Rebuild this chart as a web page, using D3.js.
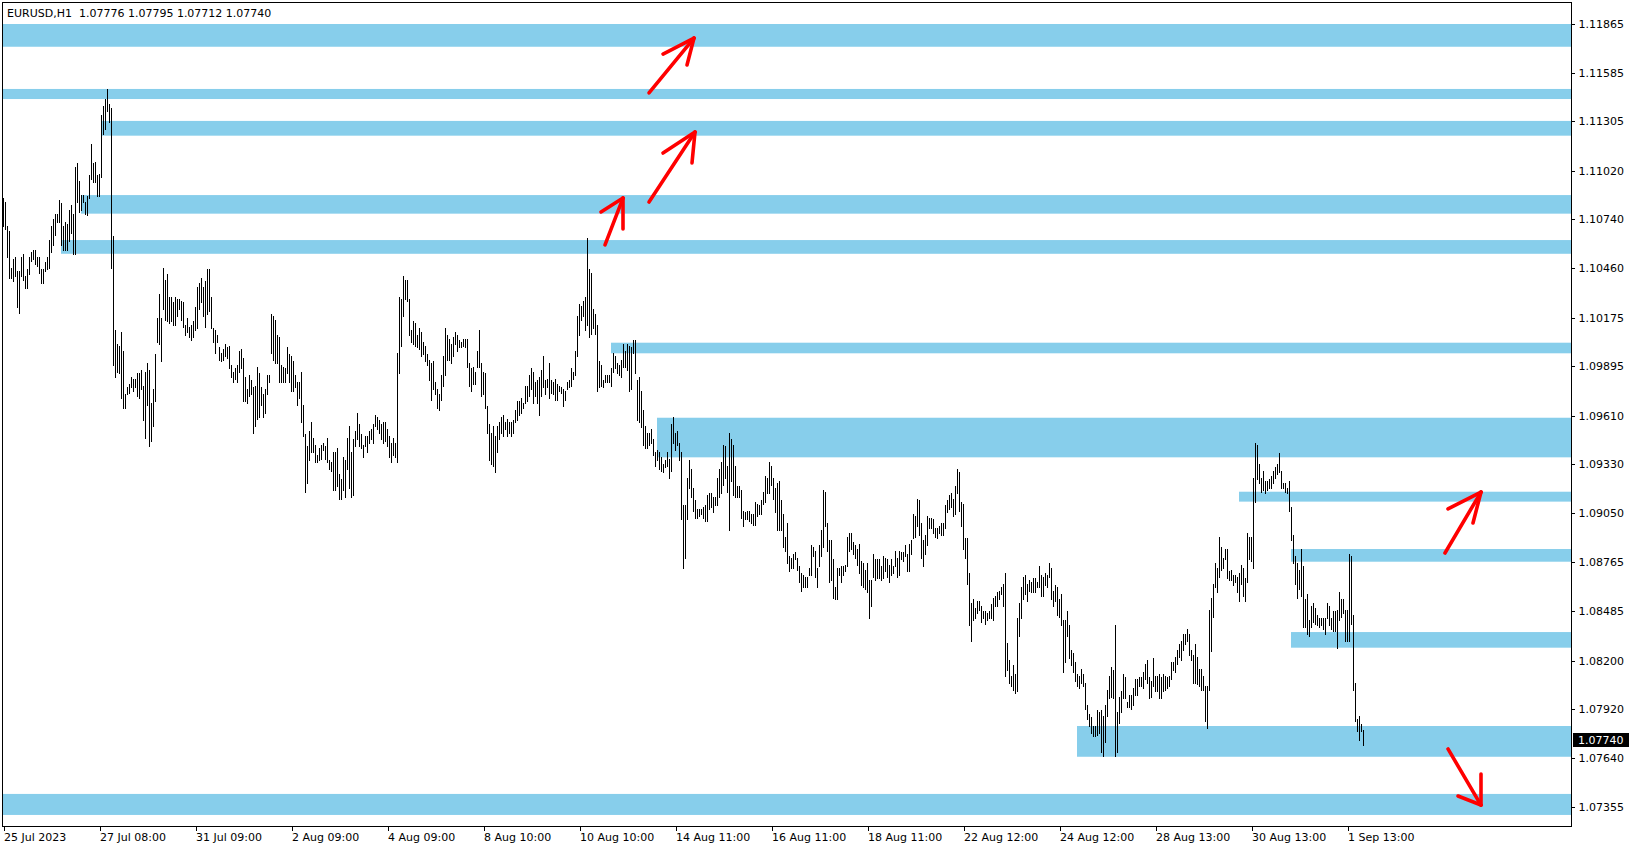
<!DOCTYPE html>
<html><head><meta charset="utf-8">
<script src="https://cdn.jsdelivr.net/npm/d3@7"></script>
<style>
html,body{margin:0;padding:0;background:#fff;}
svg{display:block;}
text{font-family:"DejaVu Sans",sans-serif;font-size:11px;fill:#000;}
</style></head><body>
<svg id="chart" width="1635" height="850"></svg>
<script>
// ---------------- data ----------------
const symbol = "EURUSD,H1";
const lastOpen = 1.07776, lastHigh = 1.07795, lastLow = 1.07712, lastClose = 1.07740;

const timeLabels = ["25 Jul 2023","27 Jul 08:00","31 Jul 09:00","2 Aug 09:00","4 Aug 09:00","8 Aug 10:00",
  "10 Aug 10:00","14 Aug 11:00","16 Aug 11:00","18 Aug 11:00","22 Aug 12:00","24 Aug 12:00",
  "28 Aug 13:00","30 Aug 13:00","1 Sep 13:00"];
const timeLabelBars = [0,48,96,144,192,240,288,336,384,432,480,528,576,624,672];

const priceTicks = [1.11865,1.11585,1.11305,1.11020,1.10740,1.10460,1.10175,1.09895,1.09610,
  1.09330,1.09050,1.08765,1.08485,1.08200,1.07920,1.07640,1.07355];

const highs = [
1.1086,1.1084,1.1070,1.1067,1.1046,1.1051,1.1052,1.1044,1.1044,1.1052,
1.1054,1.1041,1.1045,1.1052,1.1055,1.1056,1.1056,1.1052,1.1052,1.1045,
1.1045,1.1049,1.1052,1.1062,1.1070,1.1074,1.1077,1.1077,1.1085,1.1083,
1.1070,1.1072,1.1071,1.1079,1.1082,1.1077,1.1104,1.1106,1.1096,1.1088,
1.1088,1.1084,1.1087,1.1099,1.1117,1.1106,1.1107,1.1099,1.1100,1.1134,
1.1139,1.1143,1.1149,1.1140,1.1138,1.1064,1.1010,1.1002,1.1001,1.1009,
1.0998,1.0973,1.0977,1.0979,1.0983,1.0982,1.0982,1.0985,1.0985,1.0987,
1.0978,1.0986,1.0991,1.0987,1.0968,1.0976,1.0996,1.1017,1.1031,1.1017,
1.1046,1.1039,1.1042,1.1029,1.1029,1.1026,1.1029,1.1028,1.1028,1.1027,
1.1026,1.1013,1.1017,1.1012,1.1013,1.1015,1.1023,1.1035,1.1037,1.1040,
1.1035,1.1038,1.1045,1.1045,1.1029,1.1011,1.1010,1.1007,1.1000,1.0997,
1.0999,1.1002,1.1000,1.1001,1.0990,1.0986,1.0988,1.0990,1.0998,1.0999,
1.0994,1.0983,1.0976,1.0984,1.0981,1.0977,1.0978,1.0989,1.0985,1.0977,
1.0973,1.0976,1.0984,1.0984,1.1019,1.1018,1.1016,1.1007,1.1006,1.0990,
1.0989,1.0988,1.1000,1.0996,1.0995,1.0992,1.0984,1.0980,1.0980,1.0986,
1.0967,1.0950,1.0943,1.0952,1.0957,1.0948,1.0944,1.0938,1.0942,1.0944,
1.0945,1.0943,1.0948,1.0935,1.0934,1.0940,1.0940,1.0942,1.0927,1.0924,
1.0937,1.0935,1.0948,1.0955,1.0940,1.0947,1.0952,1.0962,1.0956,1.0950,
1.0944,1.0949,1.0949,1.0952,1.0953,1.0956,1.0961,1.0960,1.0958,1.0956,
1.0957,1.0957,1.0953,1.0949,1.0945,1.0948,1.0945,1.0997,1.1029,1.1028,
1.1041,1.1039,1.1039,1.1028,1.1010,1.1015,1.1014,1.1007,1.1011,1.1009,
1.1003,1.1001,1.0996,1.0993,1.0991,1.0992,1.0980,1.0976,1.0973,1.0984,
1.0995,1.1011,1.1007,1.1005,1.1002,1.1006,1.1009,1.1007,1.1004,1.1003,
1.1005,1.1005,1.1005,1.0991,1.0988,1.0989,1.0986,1.0998,1.1010,1.0991,
1.0986,1.0985,1.0966,1.0956,1.0951,1.0955,1.0949,1.0955,1.0957,1.0960,
1.0961,1.0957,1.0959,1.0957,1.0957,1.0958,1.0964,1.0969,1.0969,1.0971,
1.0968,1.0978,1.0978,1.0984,1.0988,1.0986,1.0980,1.0981,1.0983,1.0987,
1.0995,1.0981,1.0982,1.0991,1.0981,1.0980,1.0982,1.0979,1.0978,1.0977,
1.0976,1.0975,1.0980,1.0981,1.0988,1.0986,1.0998,1.1018,1.1025,1.1024,
1.1027,1.1029,1.1063,1.1045,1.1043,1.1022,1.1019,1.1013,1.0992,1.0990,
1.0981,1.0984,1.0984,1.0984,1.0988,1.0997,1.0995,1.0991,1.0990,1.0993,
1.1002,1.0998,1.1002,1.1001,1.1000,1.1004,1.1004,1.0981,1.0983,1.0975,
1.0964,1.0955,1.0951,1.0951,1.0953,1.0947,1.0940,1.0941,1.0940,1.0937,
1.0933,1.0935,1.0940,1.0936,1.0956,1.0960,1.0951,1.0952,1.0945,1.0940,
1.0909,1.0909,1.0925,1.0935,1.0930,1.0919,1.0912,1.0907,1.0907,1.0907,
1.0908,1.0909,1.0915,1.0916,1.0916,1.0914,1.0914,1.0925,1.0930,1.0934,
1.0944,1.0943,1.0932,1.0951,1.0947,1.0944,1.0932,1.0920,1.0920,1.0918,
1.0906,1.0905,1.0906,1.0906,1.0904,1.0904,1.0911,1.0910,1.0909,1.0912,
1.0917,1.0926,1.0925,1.0934,1.0932,1.0925,1.0919,1.0922,1.0923,1.0912,
1.0904,1.0891,1.0899,1.0880,1.0879,1.0881,1.0882,1.0879,1.0874,1.0870,
1.0869,1.0868,1.0868,1.0873,1.0886,1.0885,1.0883,1.0873,1.0886,1.0895,
1.0918,1.0917,1.0899,1.0889,1.0889,1.0878,1.0862,1.0873,1.0873,1.0874,
1.0874,1.0875,1.0891,1.0893,1.0893,1.0888,1.0886,1.0884,1.0887,1.0877,
1.0876,1.0872,1.0876,1.0866,1.0866,1.0881,1.0878,1.0878,1.0878,1.0874,
1.0880,1.0879,1.0878,1.0875,1.0878,1.0874,1.0883,1.0879,1.0883,1.0882,
1.0882,1.0886,1.0881,1.0887,1.0889,1.0904,1.0903,1.0913,1.0912,1.0899,
1.0889,1.0892,1.0903,1.0902,1.0902,1.0901,1.0896,1.0896,1.0897,1.0899,
1.0899,1.0909,1.0912,1.0915,1.0916,1.0913,1.0920,1.0930,1.0928,1.0911,
1.0910,1.0890,1.0890,1.0870,1.0853,1.0855,1.0850,1.0854,1.0854,1.0851,
1.0848,1.0848,1.0847,1.0848,1.0852,1.0856,1.0857,1.0859,1.0860,1.0862,
1.0864,1.0870,1.0830,1.0820,1.0811,1.0817,1.0812,1.0844,1.0853,1.0862,
1.0868,1.0869,1.0864,1.0866,1.0865,1.0867,1.0867,1.0865,1.0874,1.0869,
1.0868,1.0870,1.0869,1.0876,1.0873,1.0860,1.0863,1.0862,1.0855,1.0858,
1.0843,1.0843,1.0848,1.0840,1.0826,1.0824,1.0819,1.0812,1.0811,1.0815,
1.0812,1.0807,1.0794,1.0789,1.0787,1.0782,1.0782,1.0791,1.0790,1.0791,
1.0788,1.0794,1.0803,1.0811,1.0816,1.0814,1.0840,1.0790,1.0799,1.0802,
1.0812,1.0810,1.0796,1.0800,1.0800,1.0804,1.0809,1.0809,1.0810,1.0810,
1.0813,1.0818,1.0820,1.0810,1.0808,1.0821,1.0811,1.0811,1.0812,1.0810,
1.0812,1.0811,1.0810,1.0811,1.0819,1.0819,1.0822,1.0826,1.0829,1.0831,
1.0835,1.0835,1.0838,1.0835,1.0826,1.0823,1.0829,1.0822,1.0815,1.0815,
1.0811,1.0805,1.0805,1.0849,1.0856,1.0864,1.0876,1.0873,1.0891,1.0885,
1.0879,1.0884,1.0884,1.0871,1.0872,1.0869,1.0869,1.0868,1.0870,1.0875,
1.0873,1.0867,1.0893,1.0891,1.0891,1.0925,1.0945,1.0944,1.0933,1.0925,
1.0929,1.0923,1.0923,1.0924,1.0926,1.0929,1.0931,1.0933,1.0939,1.0929,
1.0922,1.0922,1.0919,1.0923,1.0908,1.0892,1.0880,1.0876,1.0872,1.0884,
1.0874,1.0855,1.0858,1.0843,1.0851,1.0853,1.0850,1.0846,1.0844,1.0844,
1.0844,1.0844,1.0853,1.0851,1.0844,1.0848,1.0848,1.0849,1.0859,1.0855,
1.0855,1.0849,1.0849,1.0881,1.0880,1.0846,1.0807,1.0786,1.0788,1.0783,
1.07795];

const lows = [
1.1070,1.1068,1.1052,1.1040,1.1040,1.1038,1.1041,1.1023,1.1020,1.1041,
1.1039,1.1034,1.1034,1.1042,1.1050,1.1051,1.1048,1.1047,1.1043,1.1037,
1.1037,1.1044,1.1045,1.1046,1.1055,1.1059,1.1065,1.1072,1.1072,1.1059,
1.1056,1.1056,1.1056,1.1061,1.1066,1.1054,1.1054,1.1084,1.1078,1.1079,
1.1084,1.1077,1.1076,1.1086,1.1097,1.1095,1.1095,1.1087,1.1087,1.1098,
1.1123,1.1126,1.1136,1.1130,1.1046,1.0990,1.0983,1.0986,1.0985,1.0971,
1.0965,1.0965,1.0973,1.0974,1.0977,1.0975,1.0977,1.0972,1.0971,1.0976,
1.0958,1.0948,1.0967,1.0943,1.0946,1.0955,1.0969,1.1003,1.1002,1.0992,
1.1022,1.1016,1.1015,1.1014,1.1015,1.1013,1.1013,1.1018,1.1022,1.1016,
1.1012,1.1007,1.1009,1.1006,1.1004,1.1006,1.1010,1.1011,1.1022,1.1026,
1.1018,1.1012,1.1019,1.1021,1.1011,1.1003,1.0997,1.1003,1.0993,1.0992,
1.0993,1.0995,1.0994,1.0988,1.0983,1.0980,1.0982,1.0980,1.0986,1.0988,
1.0969,1.0969,1.0968,1.0972,1.0973,1.0951,1.0955,1.0959,1.0960,1.0967,
1.0960,1.0962,1.0973,1.0980,1.0997,1.0993,1.0991,1.0991,1.0980,1.0980,
1.0980,1.0980,1.0985,1.0980,1.0975,1.0975,1.0977,1.0967,1.0971,1.0957,
1.0949,1.0917,1.0922,1.0935,1.0940,1.0940,1.0934,1.0934,1.0935,1.0936,
1.0941,1.0936,1.0934,1.0930,1.0929,1.0918,1.0918,1.0920,1.0913,1.0913,
1.0918,1.0914,1.0930,1.0919,1.0914,1.0915,1.0943,1.0947,1.0943,1.0942,
1.0937,1.0943,1.0940,1.0945,1.0947,1.0945,1.0955,1.0953,1.0951,1.0947,
1.0945,1.0946,1.0943,1.0937,1.0934,1.0938,1.0937,1.0934,1.0985,1.1001,
1.1018,1.1028,1.1027,1.1007,1.1003,1.1002,1.1001,1.1000,1.0999,1.0995,
1.0996,1.0992,1.0990,1.0981,1.0970,1.0976,1.0973,1.0965,1.0964,1.0970,
1.0978,1.0984,1.0993,1.0993,1.0991,1.0995,1.1002,1.0998,1.1000,1.1000,
1.1001,1.1000,1.0989,1.0978,1.0975,1.0979,1.0979,1.0989,1.0989,1.0972,
1.0973,1.0965,1.0951,1.0935,1.0933,1.0932,1.0928,1.0940,1.0947,1.0951,
1.0949,1.0953,1.0949,1.0951,1.0949,1.0951,1.0957,1.0958,1.0961,1.0962,
1.0965,1.0968,1.0969,1.0972,1.0976,1.0968,1.0972,1.0968,1.0961,1.0972,
1.0977,1.0973,1.0977,1.0971,1.0974,1.0973,1.0970,1.0970,1.0975,1.0974,
1.0966,1.0970,1.0976,1.0977,1.0978,1.0982,1.0984,1.0995,1.1007,1.1016,
1.1018,1.1010,1.1013,1.1006,1.1008,1.1011,1.1008,1.0975,1.0977,1.0978,
1.0977,1.0980,1.0980,1.0980,1.0978,1.0986,1.0988,1.0985,1.0984,1.0983,
1.0989,1.0989,1.0987,1.0975,1.0976,1.0997,1.0985,1.0958,1.0957,1.0954,
1.0944,1.0942,1.0942,1.0944,1.0945,1.0938,1.0932,1.0935,1.0930,1.0929,
1.0928,1.0931,1.0932,1.0925,1.0929,1.0945,1.0941,1.0944,1.0935,1.0901,
1.0873,1.0879,1.0901,1.0919,1.0914,1.0906,1.0902,1.0902,1.0903,1.0904,
1.0902,1.0900,1.0900,1.0907,1.0908,1.0905,1.0909,1.0909,1.0914,1.0916,
1.0921,1.0925,1.0917,1.0895,1.0923,1.0915,1.0914,1.0914,1.0914,1.0902,
1.0897,1.0901,1.0901,1.0900,1.0899,1.0898,1.0898,1.0903,1.0904,1.0904,
1.0910,1.0911,1.0916,1.0916,1.0921,1.0913,1.0905,1.0895,1.0895,1.0895,
1.0885,1.0883,1.0876,1.0871,1.0873,1.0873,1.0878,1.0872,1.0865,1.0860,
1.0862,1.0862,1.0862,1.0869,1.0869,1.0880,1.0868,1.0862,1.0874,1.0880,
1.0885,1.0897,1.0883,1.0865,1.0866,1.0856,1.0855,1.0855,1.0869,1.0865,
1.0869,1.0871,1.0874,1.0883,1.0884,1.0881,1.0879,1.0875,1.0870,1.0863,
1.0862,1.0861,1.0859,1.0844,1.0851,1.0868,1.0866,1.0867,1.0867,1.0866,
1.0867,1.0871,1.0868,1.0865,1.0869,1.0870,1.0874,1.0868,1.0869,1.0878,
1.0877,1.0880,1.0871,1.0871,1.0881,1.0890,1.0891,1.0897,1.0892,1.0879,
1.0874,1.0881,1.0886,1.0896,1.0896,1.0893,1.0891,1.0890,1.0893,1.0892,
1.0892,1.0896,1.0905,1.0907,1.0908,1.0903,1.0904,1.0916,1.0906,1.0897,
1.0884,1.0879,1.0864,1.0840,1.0831,1.0843,1.0844,1.0847,1.0849,1.0842,
1.0844,1.0841,1.0843,1.0844,1.0844,1.0843,1.0851,1.0851,1.0855,1.0858,
1.0851,1.0811,1.0814,1.0807,1.0805,1.0803,1.0801,1.0802,1.0834,1.0844,
1.0855,1.0858,1.0854,1.0860,1.0859,1.0859,1.0859,1.0862,1.0862,1.0857,
1.0857,1.0863,1.0862,1.0868,1.0855,1.0851,1.0854,1.0846,1.0845,1.0840,
1.0813,1.0819,1.0834,1.0821,1.0817,1.0813,1.0808,1.0805,1.0804,1.0807,
1.0805,1.0792,1.0786,1.0782,1.0778,1.0776,1.0776,1.0777,1.0778,1.0767,
1.0765,1.0773,1.0788,1.0798,1.0799,1.0798,1.0765,1.0767,1.0784,1.0790,
1.0798,1.0798,1.0793,1.0793,1.0792,1.0794,1.0800,1.0800,1.0805,1.0805,
1.0804,1.0809,1.0807,1.0798,1.0799,1.0805,1.0802,1.0802,1.0798,1.0798,
1.0802,1.0803,1.0804,1.0805,1.0809,1.0814,1.0813,1.0818,1.0822,1.0820,
1.0826,1.0829,1.0831,1.0823,1.0820,1.0807,1.0807,1.0806,1.0805,1.0803,
1.0803,1.0785,1.0781,1.0803,1.0825,1.0845,1.0862,1.0859,1.0868,1.0872,
1.0873,1.0878,1.0867,1.0866,1.0866,1.0863,1.0865,1.0859,1.0854,1.0864,
1.0857,1.0854,1.0865,1.0878,1.0877,1.0873,1.0911,1.0924,1.0922,1.0917,
1.0918,1.0916,1.0918,1.0919,1.0919,1.0922,1.0925,1.0927,1.0928,1.0919,
1.0919,1.0917,1.0916,1.0906,1.0889,1.0876,1.0864,1.0856,1.0861,1.0857,
1.0839,1.0839,1.0835,1.0834,1.0839,1.0842,1.0841,1.0840,1.0839,1.0840,
1.0838,1.0835,1.0844,1.0840,1.0838,1.0837,1.0837,1.0827,1.0843,1.0845,
1.0847,1.0831,1.0831,1.0831,1.0841,1.0803,1.0785,1.0779,1.0774,1.0779,
1.07712];

// support / resistance zones (price top, price bottom, first bar; null = from the left edge)
const zoneTops    = [1.11865,1.11491,1.11307,1.10880,1.10621,1.10030,1.09598,1.09172,1.08842,1.08364,1.07823,1.07432];
const zoneBottoms = [1.11734,1.11433,1.11222,1.10773,1.10542,1.09969,1.09370,1.09115,1.08769,1.08274,1.07646,1.07311];
const zoneStarts  = [null,null,49,39,29,304,327,618,644,644,537,null];

// red arrows: [bar, price] for tail, tip and the two head wings
const arrowTails = [[322.75,1.11468],[322.75,1.10840],[300.75,1.10593],[720.75,1.08819],[722.25,1.07691]];
const arrowTips  = [[345.25,1.11784],[345.75,1.11243],[309.75,1.10863],[738.75,1.09170],[738.75,1.07368]];
const arrowWingA = [[329.75,1.11692],[329.75,1.11122],[298.75,1.10783],[722.25,1.09073],[727.25,1.07420]];
const arrowWingB = [[341.75,1.11629],[344.25,1.11065],[309.75,1.10685],[734.75,1.08992],[738.75,1.07547]];

// ---------------- drawing ----------------
const W = 1635, H = 850;
const L = 2.5, T = 2.5, R = 1571.5, B = 826.5;
const svg = d3.select("#chart");

const nBars = highs.length;
const x = d3.scaleLinear().domain([0, nBars - 1]).range([3.5, 3.5 + 2 * (nBars - 1)]);
const y = d3.scaleLinear().domain([1.07355, 1.11865]).range([807.3, 24]);

svg.append("defs").append("clipPath").attr("id","plot")
  .append("rect").attr("x",3).attr("y",3).attr("width",R-3).attr("height",B-3);

const plot = svg.append("g").attr("clip-path","url(#plot)");

// zones
plot.append("g").selectAll("rect").data(zoneTops).join("rect")
  .attr("x",(d,i)=> zoneStarts[i]===null ? 3 : Math.floor(x(zoneStarts[i])))
  .attr("width",(d,i)=> R - (zoneStarts[i]===null ? 3 : Math.floor(x(zoneStarts[i]))))
  .attr("y",(d,i)=> y(zoneTops[i]))
  .attr("height",(d,i)=> y(zoneBottoms[i]) - y(zoneTops[i]))
  .attr("fill","#87CEEB");

// bars (high-low)
plot.append("g").attr("shape-rendering","crispEdges").selectAll("line").data(highs).join("line")
  .attr("x1",(d,i)=>x(i)).attr("x2",(d,i)=>x(i))
  .attr("y1",(d,i)=>Math.floor(y(highs[i])))
  .attr("y2",(d,i)=>Math.max(Math.ceil(y(lows[i])), Math.floor(y(highs[i]))+1))
  .attr("stroke","#000").attr("stroke-width",1);

// arrows
const ag = plot.append("g").attr("stroke","#ff0000").attr("stroke-width",3.6)
  .attr("stroke-linecap","round").attr("fill","none");
arrowTips.forEach((tip,i)=>{
  const pts = [arrowTails[i], tip];
  [arrowTails[i], arrowWingA[i], arrowWingB[i]].forEach(p=>{
    ag.append("line")
      .attr("x1",x(p[0])).attr("y1",y(p[1]))
      .attr("x2",x(tip[0])).attr("y2",y(tip[1]));
  });
});

// frame
svg.append("rect").attr("x",L).attr("y",T).attr("width",R-L).attr("height",B-T)
  .attr("fill","none").attr("stroke","#000").attr("stroke-width",1).attr("shape-rendering","crispEdges");

// right price axis
const yAxis = d3.axisRight(y).tickValues(priceTicks).tickFormat(d3.format(".5f")).tickSize(3).tickPadding(4);
const gy = svg.append("g").attr("transform",`translate(${R},0)`).call(yAxis);
gy.select(".domain").remove();
gy.selectAll(".tick line").attr("stroke","#000").attr("shape-rendering","crispEdges");
gy.selectAll(".tick text").attr("fill","#000").style("font-family","'DejaVu Sans',sans-serif").style("font-size","11px");

// bottom time axis
const xAxis = d3.axisBottom(x).tickValues(timeLabelBars).tickFormat((d,i)=>timeLabels[i]).tickSize(4).tickPadding(3);
const gx = svg.append("g").attr("transform",`translate(0,${B})`).call(xAxis);
gx.select(".domain").remove();
gx.selectAll(".tick line").attr("stroke","#000").attr("shape-rendering","crispEdges");
gx.selectAll(".tick text").attr("text-anchor","start").attr("x",0).attr("fill","#000")
  .style("font-family","'DejaVu Sans',sans-serif").style("font-size","11px");

// header
svg.append("text").attr("x",7).attr("y",16.5).attr("xml:space","preserve").style("white-space","pre")
  .text(`${symbol}  ${lastOpen.toFixed(5)} ${lastHigh.toFixed(5)} ${lastLow.toFixed(5)} ${lastClose.toFixed(5)}`);

// current price label
const cy = y(lastClose);
svg.append("rect").attr("x",R+1.5).attr("y",Math.round(cy)-7).attr("width",56).attr("height",14).attr("fill","#000");
svg.append("text").attr("x",R+6.5).attr("y",cy).attr("dy","0.36em").style("fill","#fff")
  .text(lastClose.toFixed(5));
</script>
</body></html>
